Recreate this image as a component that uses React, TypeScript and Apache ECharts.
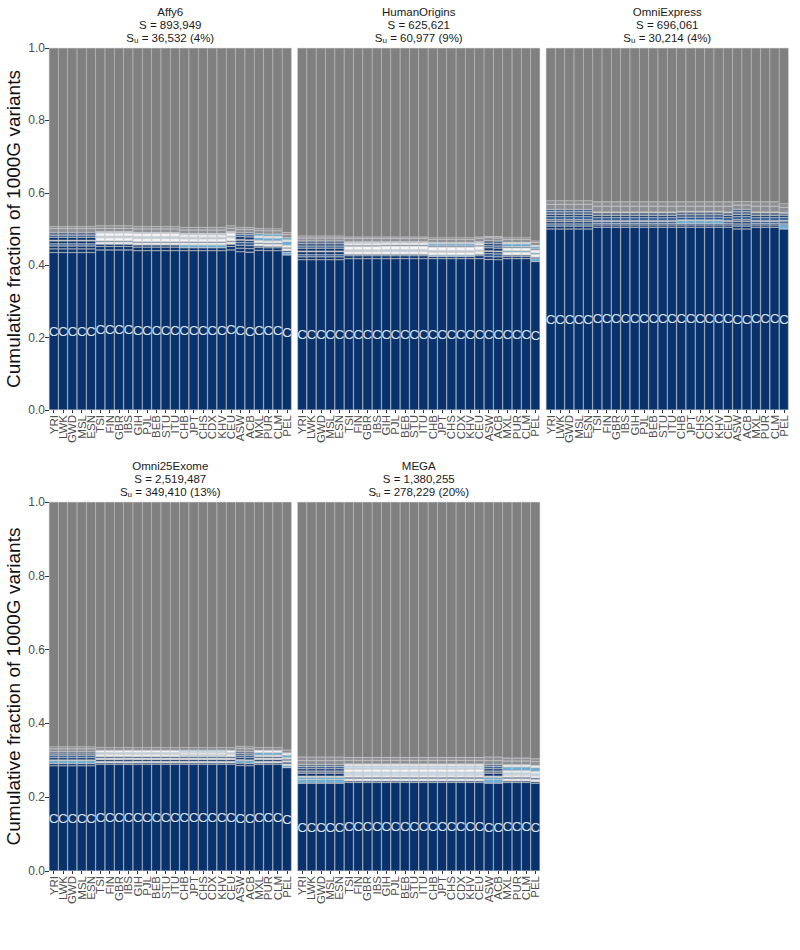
import React, { useEffect, useRef } from 'react';
import * as echarts from 'echarts';

// 26 populations of 1000G, in plotting order
const pops = [
  'YRI', 'LWK', 'GWD', 'MSL', 'ESN', 'TSI', 'FIN', 'GBR', 'IBS', 'GIH', 'PJL', 'BEB', 'STU',
  'ITU', 'CHB', 'JPT', 'CHS', 'CDX', 'KHV', 'CEU', 'ASW', 'ACB', 'MXL', 'PUR', 'CLM', 'PEL',
];
const popGroup = [
  'AFR', 'AFR', 'AFR', 'AFR', 'AFR', 'EUR', 'EUR', 'EUR', 'EUR', 'SAS', 'SAS', 'SAS', 'SAS',
  'SAS', 'EAS', 'EAS', 'EAS', 'EAS', 'EAS', 'EUR', 'AFA', 'AFA', 'AMR', 'AMR', 'AMR', 'PEL',
];

const panelNames = ['Affy6', 'HumanOrigins', 'OmniExpress', 'Omni25Exome', 'MEGA'];
const panelS = ['893,949', '625,621', '696,061', '2,519,487', '1,380,255'];
const panelSu = ['36,532 (4%)', '60,977 (9%)', '30,214 (4%)', '349,410 (13%)', '278,229 (20%)'];

// fraction in the common ("C") class, per population
const affy6Common = [
  0.435, 0.435, 0.435, 0.435, 0.435, 0.442, 0.442, 0.442, 0.442, 0.44, 0.44, 0.44, 0.44,
  0.44, 0.44, 0.44, 0.44, 0.44, 0.44, 0.442, 0.437, 0.436, 0.441, 0.44, 0.44, 0.428,
];
const humanOriginsCommon = [
  0.415, 0.415, 0.415, 0.415, 0.415, 0.418, 0.418, 0.418, 0.418, 0.418, 0.418, 0.418, 0.418,
  0.418, 0.418, 0.418, 0.418, 0.418, 0.418, 0.418, 0.416, 0.415, 0.418, 0.418, 0.418, 0.41,
];
const omniExpressCommon = [
  0.5, 0.5, 0.5, 0.5, 0.5, 0.505, 0.505, 0.505, 0.505, 0.505, 0.505, 0.505, 0.505,
  0.505, 0.505, 0.505, 0.505, 0.505, 0.505, 0.505, 0.5, 0.5, 0.505, 0.505, 0.505, 0.5,
];
const omni25Common = [
  0.285, 0.285, 0.285, 0.285, 0.285, 0.289, 0.289, 0.289, 0.289, 0.289, 0.289, 0.289, 0.289,
  0.289, 0.289, 0.289, 0.289, 0.289, 0.289, 0.289, 0.286, 0.285, 0.289, 0.289, 0.289, 0.28,
];
const megaCommon = [
  0.238, 0.238, 0.238, 0.238, 0.238, 0.24, 0.24, 0.24, 0.24, 0.24, 0.24, 0.24, 0.24,
  0.24, 0.24, 0.24, 0.24, 0.24, 0.24, 0.24, 0.238, 0.238, 0.24, 0.24, 0.24, 0.238,
];

// thin classes stacked above "C", per population group: [colour code, fraction]
type Band = [string, number][];
const affy6Bands: Record<string, Band> = {
  AFR: [['D', 0.01], ['D', 0.008], ['B', 0.006], ['D', 0.008], ['W', 0.002], ['D', 0.008], ['B', 0.006], ['S', 0.008], ['g', 0.01], ['g', 0.006]],
  EUR: [['D', 0.01], ['D', 0.006], ['W', 0.006], ['D', 0.003], ['W', 0.009], ['P', 0.004], ['W', 0.009], ['P', 0.004], ['g', 0.009], ['g', 0.007]],
  SAS: [['D', 0.01], ['D', 0.006], ['W', 0.006], ['D', 0.003], ['W', 0.009], ['P', 0.005], ['W', 0.009], ['P', 0.003], ['g', 0.009], ['g', 0.007]],
  EAS: [['D', 0.008], ['L', 0.008], ['W', 0.006], ['D', 0.003], ['W', 0.008], ['P', 0.004], ['W', 0.007], ['P', 0.004], ['g', 0.009], ['g', 0.008]],
  AFA: [['D', 0.01], ['D', 0.008], ['B', 0.008], ['D', 0.006], ['W', 0.002], ['D', 0.008], ['B', 0.006], ['S', 0.006], ['g', 0.008], ['g', 0.006]],
  AMR: [['D', 0.008], ['D', 0.004], ['W', 0.006], ['D', 0.003], ['W', 0.006], ['L', 0.008], ['W', 0.005], ['L', 0.006], ['g', 0.009], ['g', 0.006]],
  PEL: [['L', 0.008], ['D', 0.004], ['W', 0.006], ['D', 0.003], ['W', 0.006], ['L', 0.01], ['W', 0.005], ['L', 0.006], ['g', 0.009], ['g', 0.006]],
};
const humanOriginsBands: Record<string, Band> = {
  AFR: [['D', 0.008], ['B', 0.006], ['D', 0.008], ['W', 0.002], ['D', 0.008], ['B', 0.006], ['D', 0.006], ['S', 0.008], ['g', 0.008], ['g', 0.006]],
  EUR: [['D', 0.008], ['D', 0.004], ['W', 0.008], ['P', 0.004], ['W', 0.01], ['D', 0.003], ['W', 0.006], ['P', 0.004], ['g', 0.008], ['g', 0.005]],
  SAS: [['D', 0.008], ['D', 0.004], ['W', 0.008], ['P', 0.005], ['W', 0.01], ['D', 0.003], ['W', 0.006], ['P', 0.003], ['g', 0.008], ['g', 0.005]],
  EAS: [['D', 0.006], ['L', 0.004], ['W', 0.008], ['P', 0.004], ['W', 0.01], ['D', 0.003], ['L', 0.006], ['P', 0.004], ['g', 0.008], ['g', 0.005]],
  AFA: [['D', 0.008], ['B', 0.008], ['D', 0.006], ['W', 0.002], ['D', 0.008], ['B', 0.006], ['D', 0.006], ['S', 0.008], ['g', 0.008], ['g', 0.004]],
  AMR: [['D', 0.006], ['D', 0.004], ['W', 0.008], ['L', 0.004], ['W', 0.008], ['D', 0.003], ['L', 0.008], ['W', 0.004], ['g', 0.008], ['g', 0.005]],
  PEL: [['L', 0.008], ['D', 0.004], ['W', 0.008], ['L', 0.004], ['W', 0.008], ['D', 0.003], ['L', 0.006], ['W', 0.004], ['g', 0.008], ['g', 0.004]],
};
const omniExpressBands: Record<string, Band> = {
  AFR: [['D', 0.008], ['B', 0.006], ['D', 0.006], ['S', 0.006], ['B', 0.008], ['D', 0.006], ['S', 0.008], ['B', 0.006], ['g', 0.014], ['g', 0.01]],
  EUR: [['D', 0.006], ['D', 0.004], ['B', 0.006], ['W', 0.002], ['B', 0.008], ['D', 0.006], ['S', 0.008], ['W', 0.002], ['g', 0.016], ['g', 0.012]],
  SAS: [['D', 0.006], ['D', 0.004], ['B', 0.006], ['W', 0.002], ['B', 0.008], ['D', 0.006], ['S', 0.008], ['W', 0.002], ['g', 0.016], ['g', 0.012]],
  EAS: [['D', 0.006], ['D', 0.004], ['L', 0.008], ['W', 0.002], ['B', 0.008], ['D', 0.006], ['S', 0.008], ['W', 0.002], ['g', 0.014], ['g', 0.012]],
  AFA: [['D', 0.008], ['B', 0.006], ['D', 0.006], ['S', 0.006], ['B', 0.008], ['D', 0.006], ['S', 0.008], ['B', 0.006], ['g', 0.012], ['g', 0.01]],
  AMR: [['D', 0.006], ['D', 0.004], ['B', 0.006], ['W', 0.002], ['B', 0.008], ['D', 0.006], ['S', 0.008], ['W', 0.002], ['g', 0.016], ['g', 0.012]],
  PEL: [['L', 0.012], ['D', 0.004], ['B', 0.006], ['W', 0.002], ['B', 0.008], ['D', 0.006], ['S', 0.006], ['W', 0.002], ['g', 0.014], ['g', 0.01]],
};
const omni25Bands: Record<string, Band> = {
  AFR: [['D', 0.006], ['L', 0.008], ['W', 0.002], ['D', 0.006], ['B', 0.006], ['D', 0.004], ['S', 0.006], ['g', 0.008], ['g', 0.006]],
  EUR: [['D', 0.004], ['W', 0.004], ['D', 0.005], ['W', 0.004], ['D', 0.004], ['W', 0.006], ['P', 0.005], ['W', 0.006], ['g', 0.008]],
  SAS: [['D', 0.004], ['W', 0.004], ['D', 0.005], ['W', 0.004], ['D', 0.004], ['W', 0.006], ['P', 0.005], ['W', 0.006], ['g', 0.008]],
  EAS: [['D', 0.004], ['W', 0.004], ['D', 0.005], ['W', 0.004], ['D', 0.004], ['P', 0.006], ['W', 0.005], ['P', 0.006], ['g', 0.008]],
  AFA: [['D', 0.006], ['L', 0.008], ['W', 0.002], ['D', 0.006], ['B', 0.006], ['D', 0.004], ['S', 0.006], ['g', 0.008], ['g', 0.006]],
  AMR: [['D', 0.004], ['W', 0.004], ['D', 0.005], ['W', 0.004], ['D', 0.004], ['W', 0.004], ['L', 0.007], ['W', 0.006], ['g', 0.008]],
  PEL: [['L', 0.006], ['W', 0.004], ['D', 0.005], ['W', 0.004], ['D', 0.004], ['W', 0.004], ['L', 0.007], ['W', 0.006], ['g', 0.008]],
};
const megaBands: Record<string, Band> = {
  AFR: [['L', 0.01], ['L', 0.006], ['W', 0.003], ['D', 0.008], ['S', 0.006], ['D', 0.006], ['B', 0.006], ['S', 0.006], ['g', 0.01], ['g', 0.01]],
  EUR: [['D', 0.004], ['W', 0.006], ['D', 0.004], ['W', 0.006], ['P', 0.008], ['W', 0.008], ['P', 0.008], ['W', 0.006], ['g', 0.01], ['g', 0.008]],
  SAS: [['D', 0.004], ['W', 0.006], ['D', 0.004], ['W', 0.006], ['P', 0.008], ['W', 0.008], ['P', 0.008], ['W', 0.006], ['g', 0.01], ['g', 0.008]],
  EAS: [['D', 0.004], ['W', 0.006], ['D', 0.004], ['W', 0.006], ['P', 0.008], ['W', 0.008], ['P', 0.008], ['W', 0.006], ['g', 0.01], ['g', 0.008]],
  AFA: [['L', 0.01], ['L', 0.006], ['W', 0.003], ['D', 0.008], ['S', 0.006], ['D', 0.006], ['B', 0.006], ['S', 0.006], ['g', 0.01], ['g', 0.01]],
  AMR: [['D', 0.004], ['W', 0.006], ['D', 0.004], ['W', 0.006], ['P', 0.006], ['W', 0.006], ['L', 0.01], ['W', 0.006], ['g', 0.01], ['g', 0.008]],
  PEL: [['D', 0.004], ['W', 0.006], ['D', 0.004], ['W', 0.006], ['P', 0.006], ['W', 0.006], ['L', 0.01], ['W', 0.006], ['g', 0.01], ['g', 0.008]],
};

const commons = [affy6Common, humanOriginsCommon, omniExpressCommon, omni25Common, megaCommon];
const bandSets = [affy6Bands, humanOriginsBands, omniExpressBands, omni25Bands, megaBands];

const palette: Record<string, string> = {
  D: '#0b3571',
  B: '#2d5c98',
  L: '#6aaed6',
  P: '#c6dbef',
  W: '#f5f7fa',
  S: '#5e7391',
  g: '#8d8f94',
};
const commonColor = '#08326e';
const missingColor = '#808080';
const edge = 'rgba(178,178,178,0.85)';
const font = 'Liberation Sans';

// panel placement (px)
const gridLeft = [49, 297.5, 546, 49, 297.5];
const gridTop = [48, 48, 48, 502, 502];
const gridHeight = [362, 362, 362, 369, 369];
const gridWidth = 242.5;

const App: React.FC = () => {
  const chartRef = useRef<HTMLDivElement>(null);

  useEffect(() => {
    document.body.style.margin = '0';
    if (!chartRef.current) return;
    const chart = echarts.init(chartRef.current, null, { renderer: 'svg' });

    const grids: any[] = [];
    const xAxes: any[] = [];
    const yAxes: any[] = [];
    const series: any[] = [];
    const titles: any[] = [];

    panelNames.forEach((name, pi) => {
      const showY = pi === 0 || pi === 3;
      grids.push({ left: gridLeft[pi], top: gridTop[pi], width: gridWidth, height: gridHeight[pi] });
      xAxes.push({
        type: 'category',
        gridIndex: pi,
        data: pops,
        axisLine: { show: false },
        axisTick: { show: true, alignWithLabel: true, length: 3, lineStyle: { color: '#333' } },
        axisLabel: { interval: 0, rotate: 90, fontSize: 11.5, color: '#4d4d4d', fontFamily: font, margin: 5 },
      });
      yAxes.push({
        type: 'value',
        gridIndex: pi,
        min: 0,
        max: 1,
        interval: 0.2,
        splitLine: { show: false },
        axisLine: { show: false },
        axisTick: { show: showY, length: 4, lineStyle: { color: '#333' } },
        axisLabel: {
          show: showY,
          fontSize: 12,
          color: '#4d4d4d',
          fontFamily: font,
          margin: 4,
          formatter: (v: number) => v.toFixed(1),
        },
        name: showY ? 'Cumulative fraction of 1000G variants' : '',
        nameLocation: 'middle',
        nameGap: 26,
        nameTextStyle: { fontSize: 19, color: '#111', fontFamily: font },
      });

      const common = commons[pi];
      const bands = bandSets[pi];
      const nLayers = Math.max(...Object.values(bands).map((b) => b.length));
      const base = {
        type: 'bar',
        xAxisIndex: pi,
        yAxisIndex: pi,
        stack: 'panel' + pi,
        barCategoryGap: '0%',
        silent: true,
      };

      series.push({
        ...base,
        data: common,
        itemStyle: { color: commonColor, borderColor: edge, borderWidth: 0.5 },
        label: {
          show: true,
          position: 'inside',
          formatter: 'C',
          color: '#dbe6f3',
          fontSize: 13.5,
          fontFamily: font,
        },
      });

      for (let k = 0; k < nLayers; k++) {
        series.push({
          ...base,
          itemStyle: { borderColor: edge, borderWidth: 0.5 },
          data: pops.map((_, i) => {
            const b = bands[popGroup[i]][k];
            return b
              ? { value: b[1], itemStyle: { color: palette[b[0]] } }
              : { value: 0, itemStyle: { borderWidth: 0 } };
          }),
        });
      }

      // not captured: the remainder up to 1
      series.push({
        ...base,
        itemStyle: { color: missingColor, borderColor: 'rgba(150,150,150,0.7)', borderWidth: 0.5 },
        data: pops.map((_, i) => {
          const used = common[i] + bands[popGroup[i]].reduce((s, b) => s + b[1], 0);
          return +(1 - used).toFixed(4);
        }),
      });

      titles.push({
        type: 'text',
        x: gridLeft[pi] + gridWidth / 2,
        y: gridTop[pi] - 43,
        style: {
          text: `${name}\nS = ${panelS[pi]}\nS{sub|u} = ${panelSu[pi]}`,
          align: 'center',
          verticalAlign: 'top',
          fontSize: 11.5,
          lineHeight: 13,
          fontFamily: font,
          fill: '#1a1a1a',
          rich: {
            sub: { fontSize: 8, lineHeight: 13, padding: [5, 0, 0, 0], fontFamily: font, fill: '#1a1a1a' },
          },
        },
      });
    });

    chart.setOption({
      animation: false,
      backgroundColor: '#ffffff',
      grid: grids,
      xAxis: xAxes,
      yAxis: yAxes,
      series,
      graphic: titles,
    });

    const handleResize = () => chart.resize();
    window.addEventListener('resize', handleResize);
    return () => {
      window.removeEventListener('resize', handleResize);
      chart.dispose();
    };
  }, []);

  return <div ref={chartRef} style={{ width: '800px', height: '950px' }} />;
};

export default App;
